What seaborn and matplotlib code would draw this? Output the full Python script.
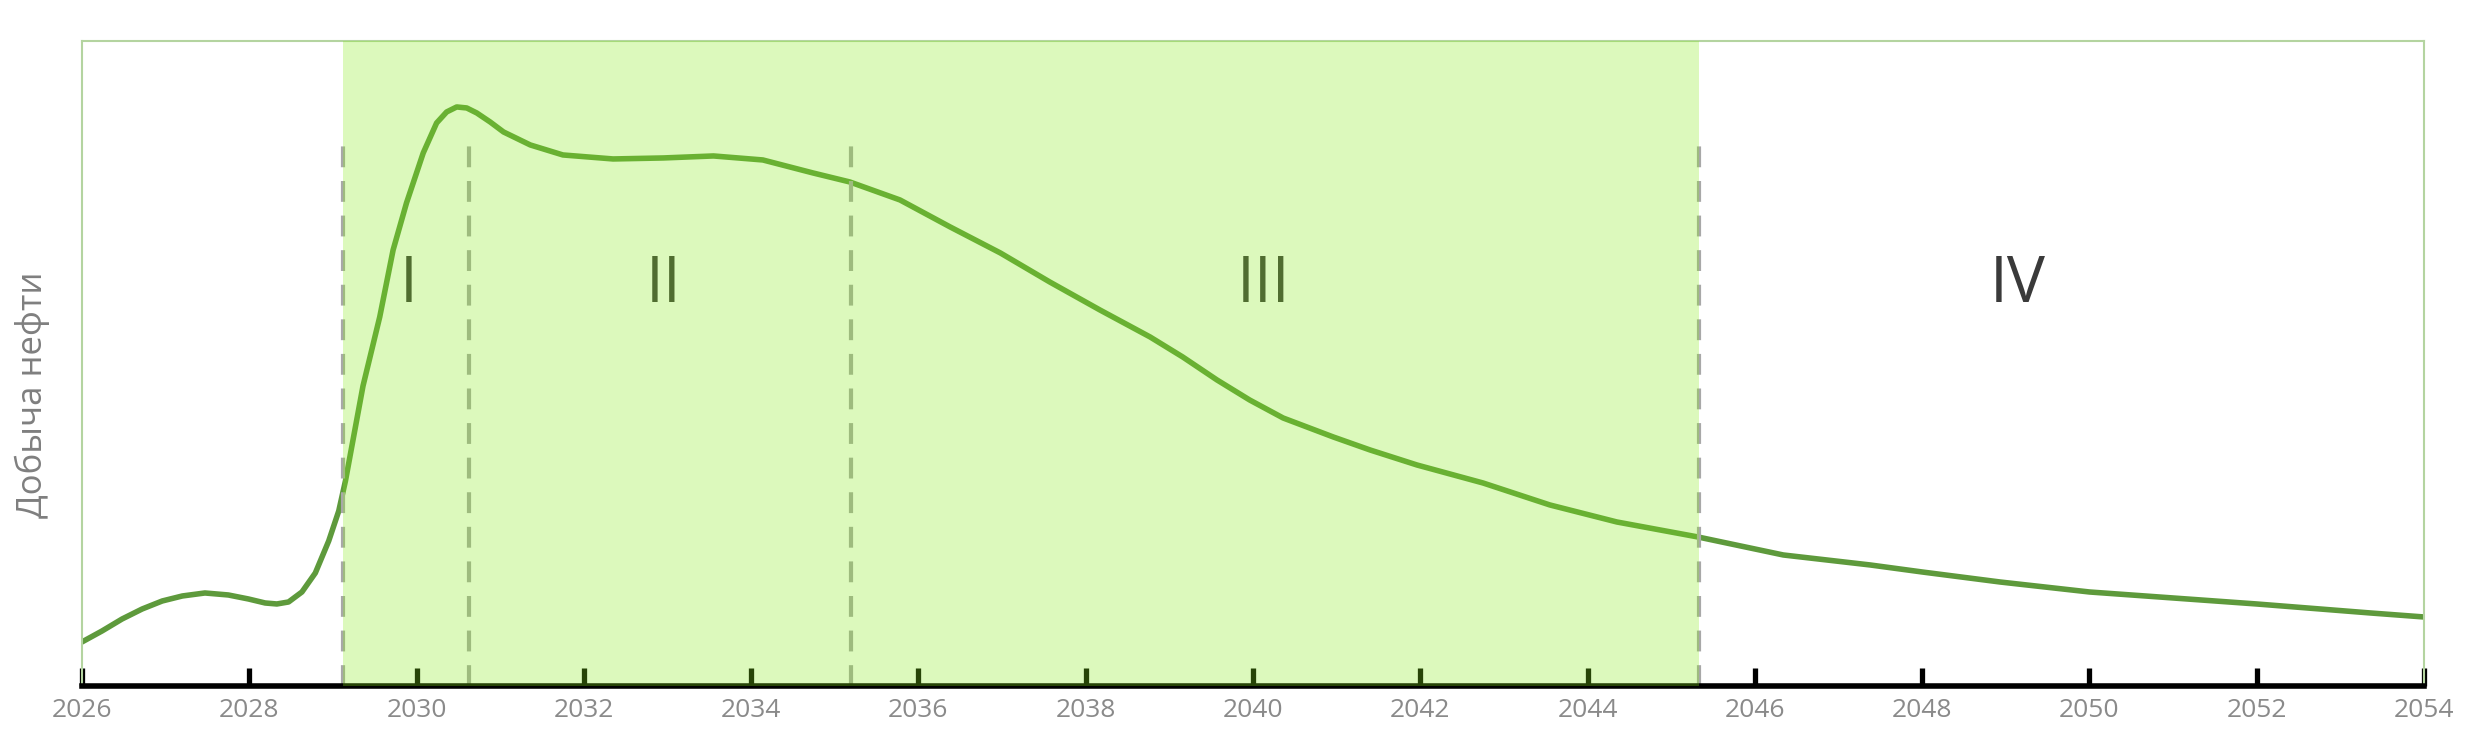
import matplotlib
matplotlib.use("Agg")
import matplotlib.pyplot as plt
import seaborn as sns
import pandas as pd

# (value units are arbitrary, no y ticks on the chart)
years = [2026.00, 2026.24, 2026.48, 2026.72, 2026.96, 2027.20, 2027.47, 2027.75,
         2027.99, 2028.19, 2028.33, 2028.47, 2028.63, 2028.79, 2028.95, 2029.07,
         2029.15, 2029.36, 2029.56, 2029.72, 2029.88, 2030.08, 2030.24, 2030.36,
         2030.48, 2030.60, 2030.72, 2030.88, 2031.04, 2031.36, 2031.75, 2032.35,
         2032.95, 2033.55, 2034.14, 2034.74, 2035.18, 2035.78, 2036.38, 2036.98,
         2037.57, 2038.17, 2038.77, 2039.16, 2039.57, 2039.96, 2040.36, 2040.96,
         2041.40, 2041.96, 2042.75, 2043.55, 2044.35, 2045.32, 2046.34, 2047.38,
         2048.00, 2048.93, 2050.00, 2051.00, 2052.00, 2053.36, 2054.00]
production = [44, 55, 67, 77, 85, 90, 93, 91,
              87, 83, 82, 84, 94, 113, 145, 175,
              205, 300, 369, 436, 483, 533, 563, 574,
              579, 578, 573, 564, 554, 541, 531, 527,
              528, 530, 526, 513, 504, 486, 459, 433,
              404, 376, 349, 329, 306, 286, 268, 249,
              236, 221, 203, 181, 164, 149, 131, 121,
              114, 104, 94, 88, 82, 73, 69]

stage_bounds = [2029.12, 2030.63, 2035.19, 2045.33]
stage_tops = [549, 549, 548, 544]
stage_names = ["I", "II", "III", "IV"]
stage_label_x = [2029.91, 2032.95, 2040.13, 2049.14]
stage_label_y = 401

df = pd.DataFrame({"year": years, "production": production})

sns.set_theme(style="white")
plt.rcParams["font.family"] = ["Open Sans", "DejaVu Sans"]

fig = plt.figure(figsize=(24.76, 7.30), dpi=100)
ax = fig.add_axes([0.0331, 0.0603, 0.9459, 0.8836])

sns.lineplot(data=df, x="year", y="production", ax=ax, color="#5e9a3c",
             linewidth=4, zorder=2)
ax.lines[0].set_solid_joinstyle("round")
ax.lines[0].set_solid_capstyle("round")

ax.vlines(stage_bounds, 0, stage_tops, colors="#a8a8a8", linewidth=3,
          linestyles=(0, (5, 3.3)), zorder=2)

for name, xp in zip(stage_names, stage_label_x):
    ax.text(xp, stage_label_y, name, ha="center", va="center",
            fontsize=46, color="#3a3a3a", zorder=2)

# green band drawn over everything, semi-transparent
ax.axvspan(stage_bounds[0], stage_bounds[-1], color="#87eb1a", alpha=0.29,
           lw=0, zorder=3)

ax.set_xlim(2026, 2054)
ax.set_ylim(0, 645)
ax.set_xticks(range(2026, 2055, 2))
ax.set_yticks([])
ax.set_xlabel("")
ax.set_ylabel("")
ax.tick_params(axis="x", direction="in", length=13, width=3.8, color="black",
               labelsize=19, labelcolor="#8a8a8a", pad=9, bottom=True)

for side in ["left", "right", "top"]:
    ax.spines[side].set_color("#b4d4a0")
    ax.spines[side].set_linewidth(1.5)
ax.spines["bottom"].set_color("black")
ax.spines["bottom"].set_linewidth(4)

fig.text(0.0129, 0.459, "Добыча нефти", rotation=90, ha="center", va="center",
         fontsize=25, color="#7f7f7f")

fig.savefig("out.png", dpi=100)
